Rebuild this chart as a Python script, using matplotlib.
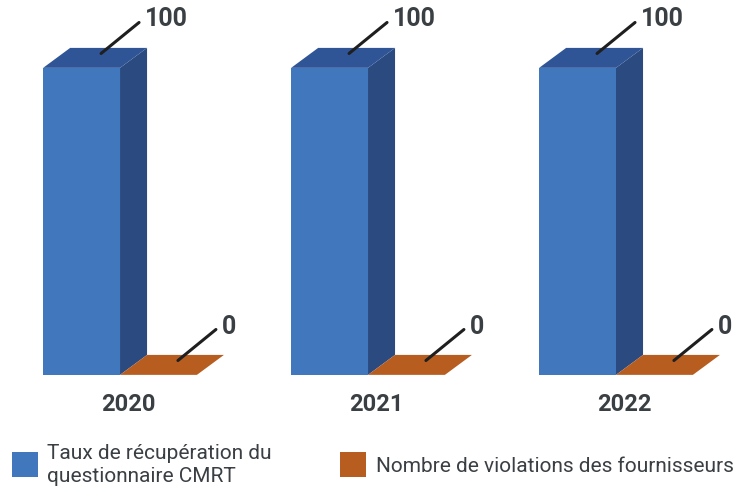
import matplotlib.pyplot as plt
from matplotlib.patches import Polygon, Rectangle

plt.rcParams['font.family'] = ['Roboto', 'DejaVu Sans']

years = ['2020', '2021', '2022']
series = ['Taux de récupération du\nquestionnaire CMRT', 'Nombre de violations des fournisseurs']
taux = [100, 100, 100]
violations = [0, 0, 0]

front = ['#4077bd', '#b75d20']
side = ['#2b4a80', '#8f4718']
top = ['#2f5597', '#b75d20']
txt = '#3a3f44'

fig = plt.figure(figsize=(7.4, 4.9), dpi=100)
ax = fig.add_axes([0, 0, 1, 1])
ax.set_xlim(-0.484, 2.5)
ax.set_ylim(-37.5, 122.1)
ax.axis('off')

w = 0.31      # bar width (group units)
dx = 0.109    # depth offset x
dy = 6.5      # depth offset y (value units)

for j, vals in enumerate([taux, violations]):
    for i, v in enumerate(vals):
        x0 = i + (j - 1) * w
        if v > 0:
            ax.add_patch(Rectangle((x0, 0), w, v, fc=front[j], ec='none'))
            ax.add_patch(Polygon([(x0 + w, 0), (x0 + w + dx, dy), (x0 + w + dx, v + dy), (x0 + w, v)],
                                 fc=side[j], ec='none'))
        ax.add_patch(Polygon([(x0, v), (x0 + dx, v + dy), (x0 + w + dx, v + dy), (x0 + w, v)],
                             fc=top[j], ec='none'))
        sx, sy = x0 + 0.5 * w + 0.72 * dx, v + 0.72 * dy
        ax.annotate('', xy=(sx, sy), xytext=(38, 31), textcoords='offset pixels',
                    arrowprops=dict(arrowstyle='-', lw=2.2, color='#1f1f1f', shrinkA=0, shrinkB=0))
        ax.annotate(str(v), xy=(sx, sy), xytext=(44, 34), textcoords='offset pixels',
                    ha='left', va='center', fontsize=18, fontweight='bold', color=txt)

for i, y in enumerate(years):
    ax.text(i + 0.3 * dx, -9.5, y, ha='center', va='center', fontsize=17,
            fontweight='bold', color=txt)

# legend
fig.add_artist(Rectangle((12 / 740, 13 / 490), 26 / 740, 25 / 490, transform=fig.transFigure,
                         fc=front[0], ec='none'))
fig.text(47 / 740, 25 / 490, series[0], ha='left', va='center', fontsize=15,
         color=txt, linespacing=1.3)
fig.add_artist(Rectangle((340 / 740, 13 / 490), 26 / 740, 25 / 490, transform=fig.transFigure,
                         fc=front[1], ec='none'))
fig.text(376 / 740, 24 / 490, series[1], ha='left', va='center', fontsize=15, color=txt)

fig.savefig('out.png', dpi=100)
